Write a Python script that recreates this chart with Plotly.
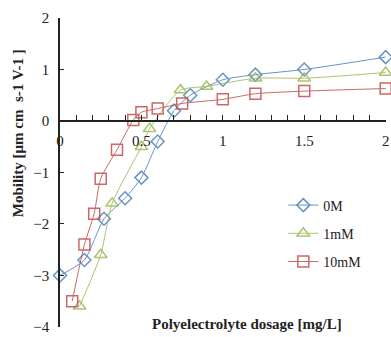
import plotly.graph_objects as go

x_0M = [0, 0.15, 0.27, 0.4, 0.5, 0.6, 0.7, 0.8, 1.0, 1.2, 1.5, 2.0]
y_0M = [-3.0, -2.7, -1.9, -1.5, -1.1, -0.4, 0.2, 0.5, 0.8, 0.9, 1.0, 1.24]

x_1mM = [0.12, 0.25, 0.32, 0.5, 0.55, 0.74, 0.9, 1.2, 1.5, 2.0]
y_1mM = [-3.6, -2.6, -1.6, -0.5, -0.15, 0.6, 0.67, 0.83, 0.83, 0.94]

x_10mM = [0.075, 0.15, 0.21, 0.25, 0.35, 0.45, 0.5, 0.6, 0.75, 1.0, 1.2, 1.5, 2.0]
y_10mM = [-3.5, -2.4, -1.8, -1.12, -0.56, 0.02, 0.17, 0.24, 0.34, 0.42, 0.53, 0.58, 0.63]

names = ["0M", "1mM", "10mM"]
serif = "Liberation Serif"

series = [
    (x_0M, y_0M, "#4F81BD", "diamond-open", 10),
    (x_1mM, y_1mM, "#9BBB59", "triangle-up-open", 11),
    (x_10mM, y_10mM, "#C0504D", "square-open", 11),
]

fig = go.Figure()
for name, (xs, ys, col, sym, sz) in zip(names, series):
    fig.add_trace(go.Scatter(
        x=xs, y=ys, name=name, mode="lines+markers",
        line=dict(color=col, width=1, shape="spline", smoothing=0.6),
        marker=dict(symbol=sym, size=sz, color=col, line=dict(width=1.5, color=col)),
        opacity=0.85, cliponaxis=False, legendgroup=name,
    ))

fig.update_layout(
    width=391, height=337,
    margin=dict(l=60, r=2, t=18, b=7),
    plot_bgcolor="white", paper_bgcolor="white",
    font=dict(family=serif, size=14, color="#222"),
    showlegend=True,
    legend=dict(x=0.685, y=0.445, xanchor="left", yanchor="top",
                font=dict(family=serif, size=14, color="#222"),
                bgcolor="rgba(0,0,0,0)", tracegroupgap=7, itemwidth=30),
    xaxis=dict(range=[0, 2.002], anchor="free", position=4.002/6.002,
               showline=True, linecolor="#222", linewidth=1.5,
               ticks="inside", ticklen=5, tickcolor="#222", dtick=0.5, tick0=0,
               tickfont=dict(family=serif, size=15, color="#222"),
               minor=dict(dtick=0.1, ticks="inside", ticklen=5, tickcolor="#222"),
               showgrid=False, zeroline=False, ticklabelstandoff=6,
               ticklabeloverflow="allow"),
    yaxis=dict(range=[-4.002, 2], showline=True, linecolor="#222", linewidth=1.5,
               ticks="inside", ticklen=4, tickcolor="#222", dtick=1,
               tickfont=dict(family=serif, size=15, color="#222"),
               showgrid=False, zeroline=False, ticklabelstandoff=6,
               ticklabeloverflow="allow"),
    annotations=[
        dict(text="<b>Polyelectrolyte dosage [mg/L]</b>", xref="paper", yref="paper",
             x=(249 - 60) / 329, y=(330 - 327) / 312, xanchor="center", yanchor="middle",
             showarrow=False, font=dict(family=serif, size=15, color="#222")),
        dict(text="<b>Mobility [μm cm  s-1 V-1 ]</b>", xref="paper", yref="paper",
             x=(18 - 60) / 329, y=(330 - 134) / 312, xanchor="center", yanchor="middle",
             textangle=-90, showarrow=False, font=dict(family=serif, size=15, color="#222")),
    ],
)

fig.write_html("out.html", config={"displayModeBar": False},
               post_script="document.body.style.margin='0';document.body.style.overflow='hidden';")
